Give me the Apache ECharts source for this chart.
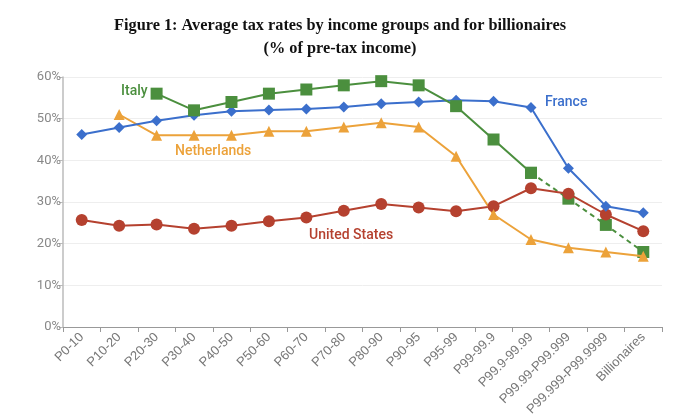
<!DOCTYPE html>
<html>
<head>
<meta charset="utf-8">
<script src="https://cdn.jsdelivr.net/npm/echarts@6/dist/echarts.min.js"></script>
<style>
  html, body { margin: 0; padding: 0; background: #fff; }
  #main { width: 680px; height: 420px; }
</style>
</head>
<body>
<div id="main"></div>
<script>
// income groups (x axis)
var groups = ['P0-10', 'P10-20', 'P20-30', 'P30-40', 'P40-50', 'P50-60', 'P60-70', 'P70-80',
  'P80-90', 'P90-95', 'P95-99', 'P99-99.9', 'P99.9-99.99', 'P99.99-P99.999',
  'P99.999-P99.9999', 'Billionaires'];

// average tax rate, % of pre-tax income
var france = [46.2, 47.9, 49.5, 50.8, 51.8, 52.1, 52.3, 52.8, 53.6, 54.0, 54.4, 54.2, 52.7, 38.1, 29.0, 27.4];
var italy = [null, null, 56, 52, 54, 56, 57, 58, 59, 58, 53, 45, 37, 30.8, 24.5, 18];
var netherlands = [null, 51, 46, 46, 46, 47, 47, 48, 49, 48, 41, 27, 21, 19, 18, 17];
var usa = [25.7, 24.3, 24.6, 23.6, 24.3, 25.4, 26.3, 27.9, 29.5, 28.7, 27.8, 29.0, 33.3, 32.0, 27.0, 23.0];

// italy is drawn solid up to P99.9-99.99, dashed after it
var italyBreak = 12;
var italySolid = italy.map(function (v, i) { return i <= italyBreak ? v : null; });
var italyDashed = italy.map(function (v, i) { return i >= italyBreak ? v : null; });

var yTicks = [0, 10, 20, 30, 40, 50, 60];

var cBlue = '#3b6fcc', cGreen = '#4b8f3e', cOrange = '#eca23a', cRed = '#b5412f';

var chart = echarts.init(document.getElementById('main'));

function line(name, data, color, symbol, size, dashed) {
  return {
    name: name,
    type: 'line',
    data: data,
    symbol: symbol,
    symbolSize: size,
    connectNulls: false,
    itemStyle: { color: color },
    lineStyle: { color: color, width: 2, type: dashed ? [5, 4] : 'solid' },
    z: dashed ? 1 : 2,
    animation: false
  };
}

chart.setOption({
  backgroundColor: '#fff',
  animation: false,
  title: {
    text: 'Figure 1: Average tax rates by income groups and for billionaires\n(% of pre-tax income)',
    left: 'center',
    top: 9,
    textStyle: {
      fontFamily: 'Liberation Serif',
      fontWeight: 'bold',
      fontSize: 16.3,
      lineHeight: 23,
      color: '#111'
    }
  },
  grid: { left: 63, right: 18, top: 77, bottom: 93, containLabel: false },
  xAxis: {
    type: 'category',
    data: groups,
    boundaryGap: true,
    axisLine: { lineStyle: { color: '#999', width: 1 } },
    axisTick: { show: true, length: 5, lineStyle: { color: '#999' } },
    axisLabel: {
      rotate: 45,
      interval: 0,
      color: '#777',
      fontFamily: 'Liberation Sans',
      fontSize: 13,
      margin: 8
    },
    splitLine: { show: false }
  },
  yAxis: {
    type: 'value',
    min: yTicks[0],
    max: yTicks[yTicks.length - 1],
    interval: 10,
    axisLine: { show: true, lineStyle: { color: '#bbb', width: 1.5 } },
    axisTick: { show: true, length: 4, lineStyle: { color: '#bbb' } },
    axisLabel: {
      formatter: '{value}%',
      color: '#888',
      fontFamily: 'Roboto',
      fontSize: 13,
      margin: 2
    },
    splitLine: { lineStyle: { color: '#eeeeee', width: 1 } }
  },
  series: [
    line('United States', usa, cRed, 'circle', 12),
    line('Netherlands', netherlands, cOrange, 'triangle', 11),
    line('France', france, cBlue, 'diamond', 11),
    line('Italy', italySolid, cGreen, 'rect', 12),
    line('Italy (dashed)', italyDashed, cGreen, 'rect', 12, true)
  ],
  graphic: [
    { type: 'text', left: 121, top: 84, style: { text: 'Italy', fill: cGreen, font: '500 14px Roboto' } },
    { type: 'text', left: 175, top: 144, style: { text: 'Netherlands', fill: cOrange, font: '500 14px Roboto' } },
    { type: 'text', left: 545, top: 95, style: { text: 'France', fill: cBlue, font: '500 14px Roboto' } },
    { type: 'text', left: 309, top: 228, style: { text: 'United States', fill: cRed, font: '500 14px Roboto' } }
  ]
});
</script>
</body>
</html>
